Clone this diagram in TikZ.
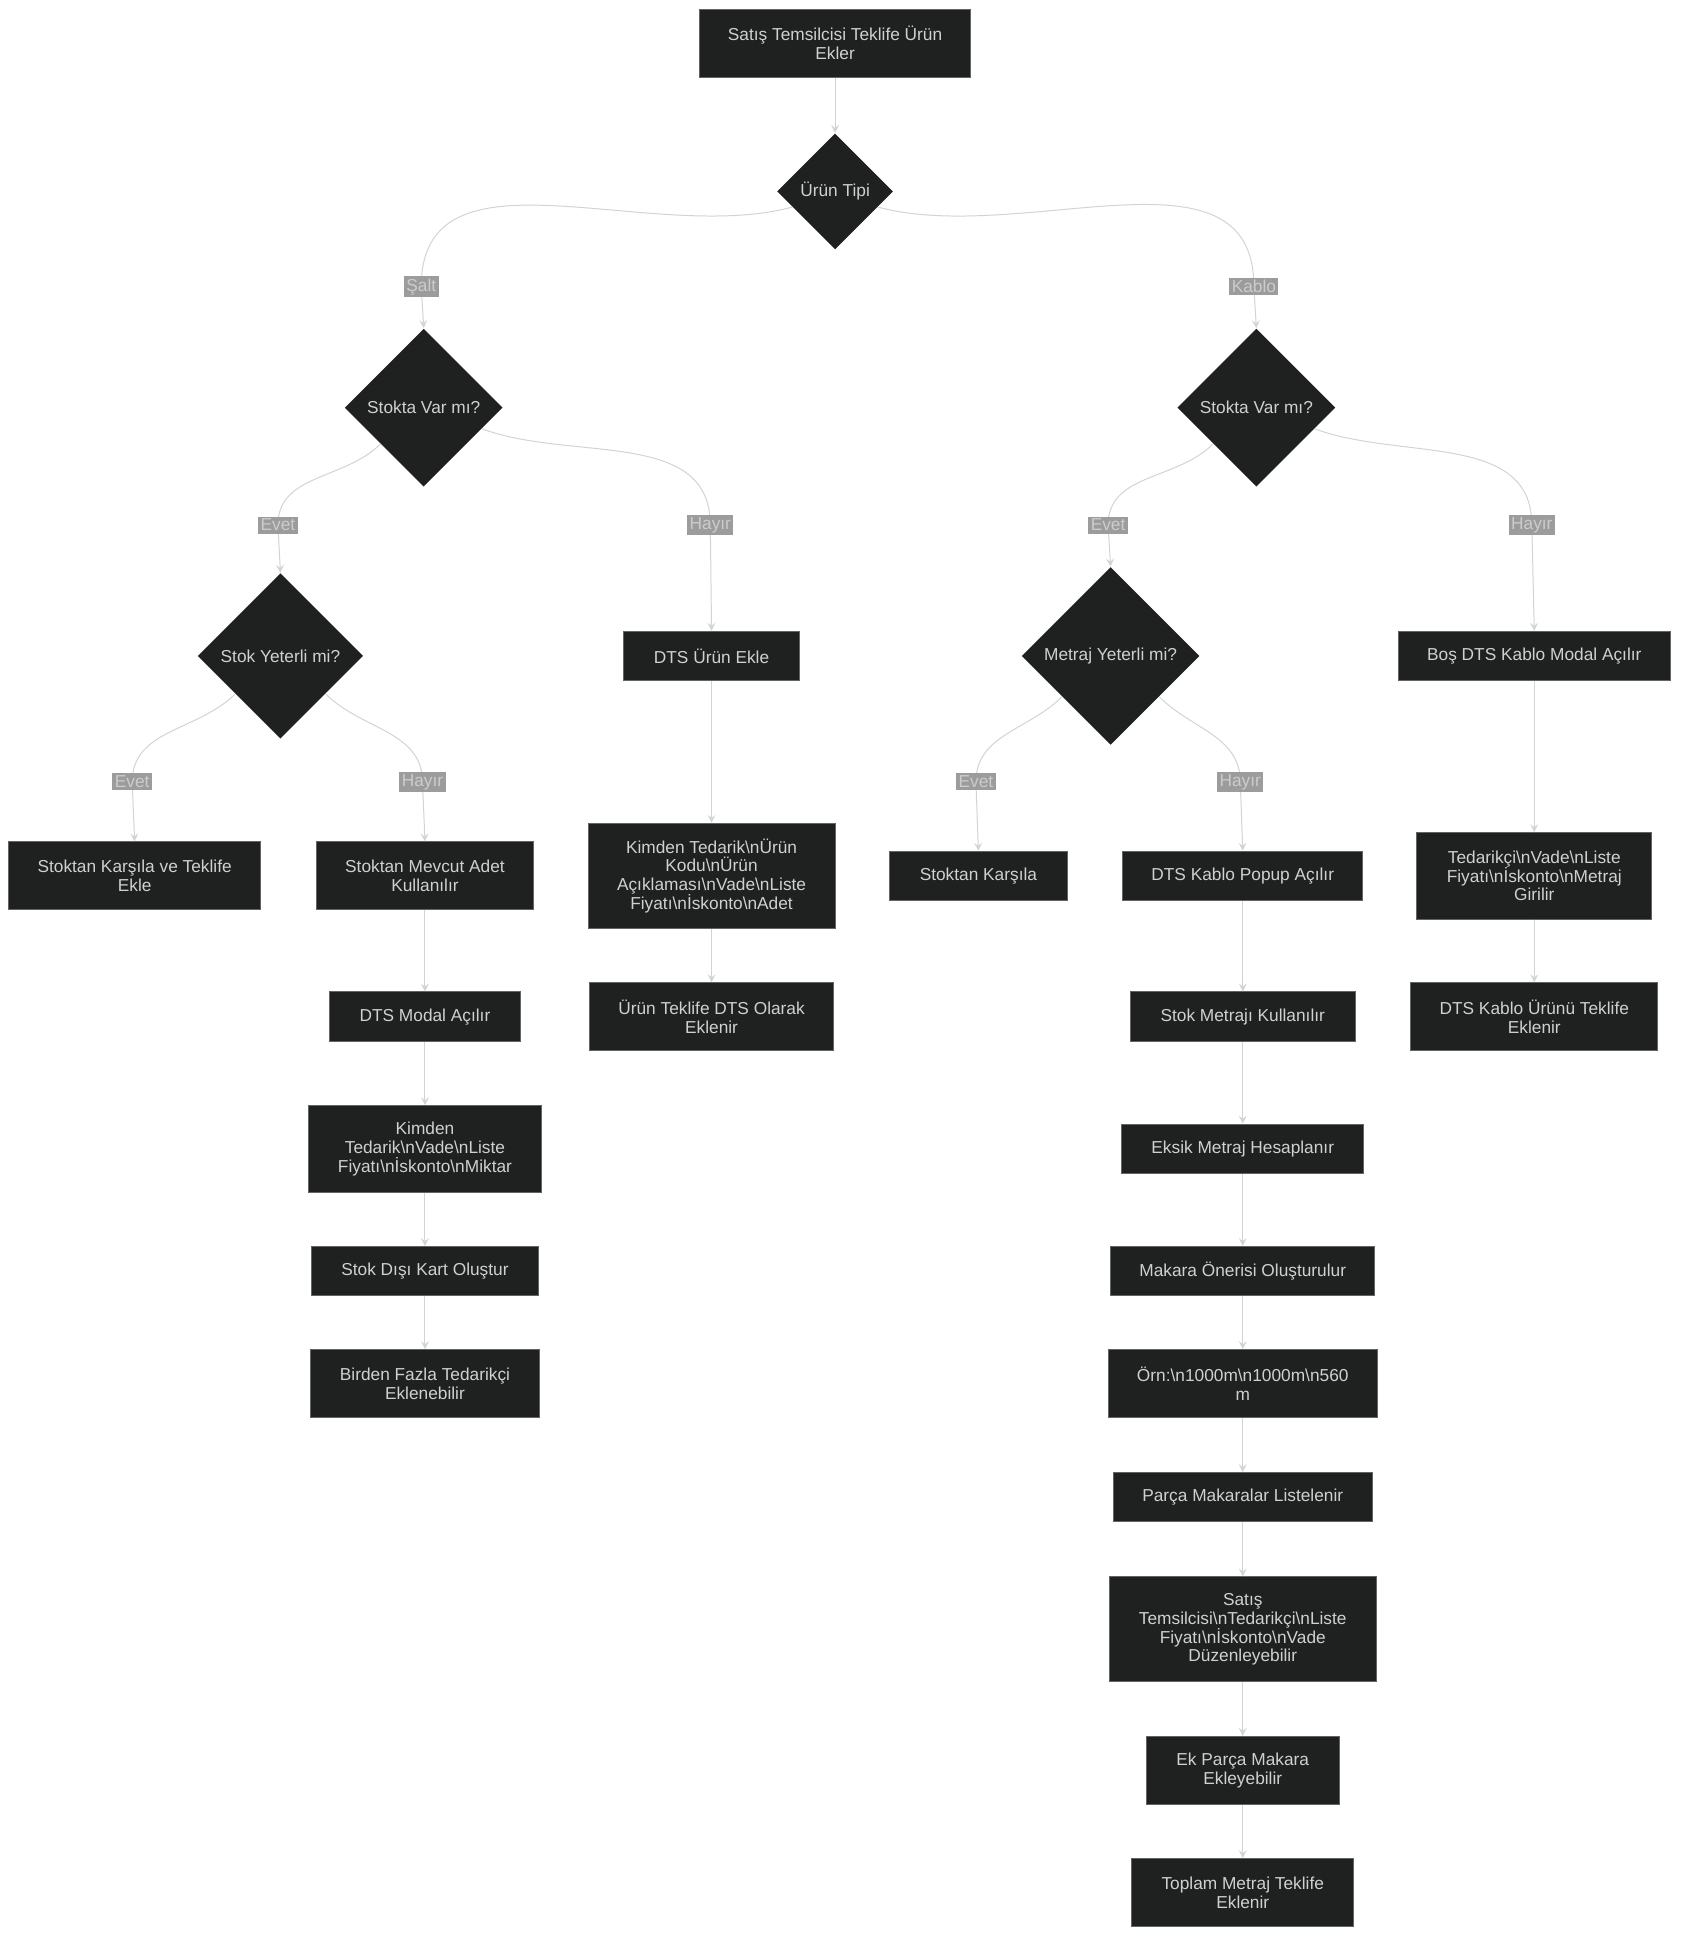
\documentclass[tikz,border=0pt]{standalone}
\usepackage{fontspec}
\setmainfont{Liberation Sans}
\usetikzlibrary{arrows, shapes.geometric}
\definecolor{boxfill}{HTML}{1F2020}
\definecolor{boxtext}{HTML}{D0D0D0}
\definecolor{edgecol}{HTML}{D3D3D3}
\definecolor{lblfill}{HTML}{9C9C9C}
\begin{document}
\begin{tikzpicture}[
            x = 0.5pt, y = -0.5pt,
            > = stealth, % arrow head style
            font = \fontsize{7}{7.6}\selectfont,
            every node/.style = {text = boxtext, align = center},
            box/.style = {fill = boxfill, draw = boxfill!70!white, thin, inner sep = 0},
            dia/.style = {diamond, fill = boxfill, aspect = 1, inner sep = 0,
                minimum size = #1},
            edge/.style = {->, draw = edgecol, thin},
            lbl/.style = {fill = lblfill, inner sep = 1pt, text = white!80!black}
        ]

        \useasboundingbox (0,0) rectangle (1360,1568);

        % decisions
        \node[dia=47pt] (tip) at (676,155) {Ürün Tipi};
        \node[dia=64pt] (stokS) at (343,330) {Stokta Var mı?};
        \node[dia=64pt] (stokK) at (1017,330) {Stokta Var mı?};
        \node[dia=67pt] (yeterli) at (227,531) {Stok Yeterli mi?};
        \node[dia=72pt] (metraj) at (899,531) {Metraj Yeterli mi?};

        % boxes
        \node[box, minimum width=110pt, minimum height=27.5pt] (start) at (676,35) {Satış Temsilcisi Teklife Ürün\\Ekler};
        \node[box, minimum width=71pt, minimum height=20pt] (dtsEkle) at (576,531) {DTS Ürün Ekle};
        \node[box, minimum width=110pt, minimum height=20pt] (bosModal) at (1242,531) {Boş DTS Kablo Modal Açılır};
        \node[box, minimum width=102pt, minimum height=27.5pt] (karsilaEkle) at (109,709) {Stoktan Karşıla ve Teklife\\Ekle};
        \node[box, minimum width=88pt, minimum height=27.5pt] (mevcut) at (344,709) {Stoktan Mevcut Adet\\Kullanılır};
        \node[box, minimum width=100pt, minimum height=42.5pt] (kimdenU) at (576,709) {Kimden Tedarik\textbackslash nÜrün\\Kodu\textbackslash nÜrün\\Açıklaması\textbackslash nVade\textbackslash nListe\\Fiyatı\textbackslash nİskonto\textbackslash nAdet};
        \node[box, minimum width=72pt, minimum height=20pt] (karsila) at (792,709) {Stoktan Karşıla};
        \node[box, minimum width=97pt, minimum height=20pt] (popup) at (1006,709) {DTS Kablo Popup Açılır};
        \node[box, minimum width=95pt, minimum height=35pt] (tedarikci) at (1242,709) {Tedarikçi\textbackslash nVade\textbackslash nListe\\Fiyatı\textbackslash nİskonto\textbackslash nMetraj\\Girilir};
        \node[box, minimum width=77pt, minimum height=20pt] (dtsModal) at (344,823) {DTS Modal Açılır};
        \node[box, minimum width=99pt, minimum height=27.5pt] (teklifDts) at (576,823) {Ürün Teklife DTS Olarak\\Eklenir};
        \node[box, minimum width=91pt, minimum height=20pt] (stokMetraj) at (1006,823) {Stok Metrajı Kullanılır};
        \node[box, minimum width=100pt, minimum height=27.5pt] (kabloEklenir) at (1242,823) {DTS Kablo Ürünü Teklife\\Eklenir};
        \node[box, minimum width=94pt, minimum height=35pt] (kimdenV) at (344,930) {Kimden\\Tedarik\textbackslash nVade\textbackslash nListe\\Fiyatı\textbackslash nİskonto\textbackslash nMiktar};
        \node[box, minimum width=98pt, minimum height=20pt] (eksik) at (1006,930) {Eksik Metraj Hesaplanır};
        \node[box, minimum width=92pt, minimum height=20pt] (kart) at (344,1029) {Stok Dışı Kart Oluştur};
        \node[box, minimum width=107pt, minimum height=20pt] (makara) at (1006,1029) {Makara Önerisi Oluşturulur};
        \node[box, minimum width=93pt, minimum height=27.5pt] (birden) at (344,1120) {Birden Fazla Tedarikçi\\Eklenebilir};
        \node[box, minimum width=109pt, minimum height=27.5pt] (orn) at (1006,1120) {Örn:\textbackslash n1000m\textbackslash n1000m\textbackslash n560\\m};
        \node[box, minimum width=105pt, minimum height=20pt] (parca) at (1006,1212) {Parça Makaralar Listelenir};
        \node[box, minimum width=108pt, minimum height=42.5pt] (duzenle) at (1006,1319) {Satış\\Temsilcisi\textbackslash nTedarikçi\textbackslash nListe\\Fiyatı\textbackslash nİskonto\textbackslash nVade\\Düzenleyebilir};
        \node[box, minimum width=78pt, minimum height=27.5pt] (ekParca) at (1006,1433) {Ek Parça Makara\\Ekleyebilir};
        \node[box, minimum width=90pt, minimum height=27.5pt] (toplam) at (1006,1532) {Toplam Metraj Teklife\\Eklenir};

        % label points
        \coordinate (lSalt) at (341,232);
        \coordinate (lKablo) at (1015,232);
        \coordinate (lEvS) at (225,425);
        \coordinate (lHaS) at (575,425);
        \coordinate (lEvK) at (897,425);
        \coordinate (lHaK) at (1240,425);
        \coordinate (lEvY) at (107,633);
        \coordinate (lHaY) at (342,633);
        \coordinate (lEvM) at (790,633);
        \coordinate (lHaM) at (1004,633);

        % branching edges
        \draw[edge] (tip.200) to[out=195,in=90] (lSalt) -- (stokS.north);
        \draw[edge] (tip.-20) to[out=-15,in=90] (lKablo) -- (stokK.north);
        \draw[edge] (stokS.220) to[out=225,in=90] (lEvS) -- (yeterli.north);
        \draw[edge] (stokS.-20) to[out=-20,in=90] (lHaS) -- (dtsEkle.north);
        \draw[edge] (stokK.220) to[out=225,in=90] (lEvK) -- (metraj.north);
        \draw[edge] (stokK.-20) to[out=-20,in=90] (lHaK) -- (bosModal.north);
        \draw[edge] (yeterli.220) to[out=225,in=90] (lEvY) -- (karsilaEkle.north);
        \draw[edge] (yeterli.-40) to[out=-45,in=90] (lHaY) -- (mevcut.north);
        \draw[edge] (metraj.220) to[out=225,in=90] (lEvM) -- (karsila.north);
        \draw[edge] (metraj.-40) to[out=-45,in=90] (lHaM) -- (popup.north);

        % straight edges
        \draw[edge] (start) -- (tip);
        \draw[edge] (dtsEkle) -- (kimdenU);
        \draw[edge] (kimdenU) -- (teklifDts);
        \draw[edge] (bosModal) -- (tedarikci);
        \draw[edge] (tedarikci) -- (kabloEklenir);
        \draw[edge] (mevcut) -- (dtsModal);
        \draw[edge] (dtsModal) -- (kimdenV);
        \draw[edge] (kimdenV) -- (kart);
        \draw[edge] (kart) -- (birden);
        \draw[edge] (popup) -- (stokMetraj);
        \draw[edge] (stokMetraj) -- (eksik);
        \draw[edge] (eksik) -- (makara);
        \draw[edge] (makara) -- (orn);
        \draw[edge] (orn) -- (parca);
        \draw[edge] (parca) -- (duzenle);
        \draw[edge] (duzenle) -- (ekParca);
        \draw[edge] (ekParca) -- (toplam);

        % edge labels
        \node[lbl] at (lSalt) {Şalt};
        \node[lbl] at (lKablo) {Kablo};
        \node[lbl] at (lEvS) {Evet};
        \node[lbl] at (lHaS) {Hayır};
        \node[lbl] at (lEvK) {Evet};
        \node[lbl] at (lHaK) {Hayır};
        \node[lbl] at (lEvY) {Evet};
        \node[lbl] at (lHaY) {Hayır};
        \node[lbl] at (lEvM) {Evet};
        \node[lbl] at (lHaM) {Hayır};

    \end{tikzpicture}
\end{document}
